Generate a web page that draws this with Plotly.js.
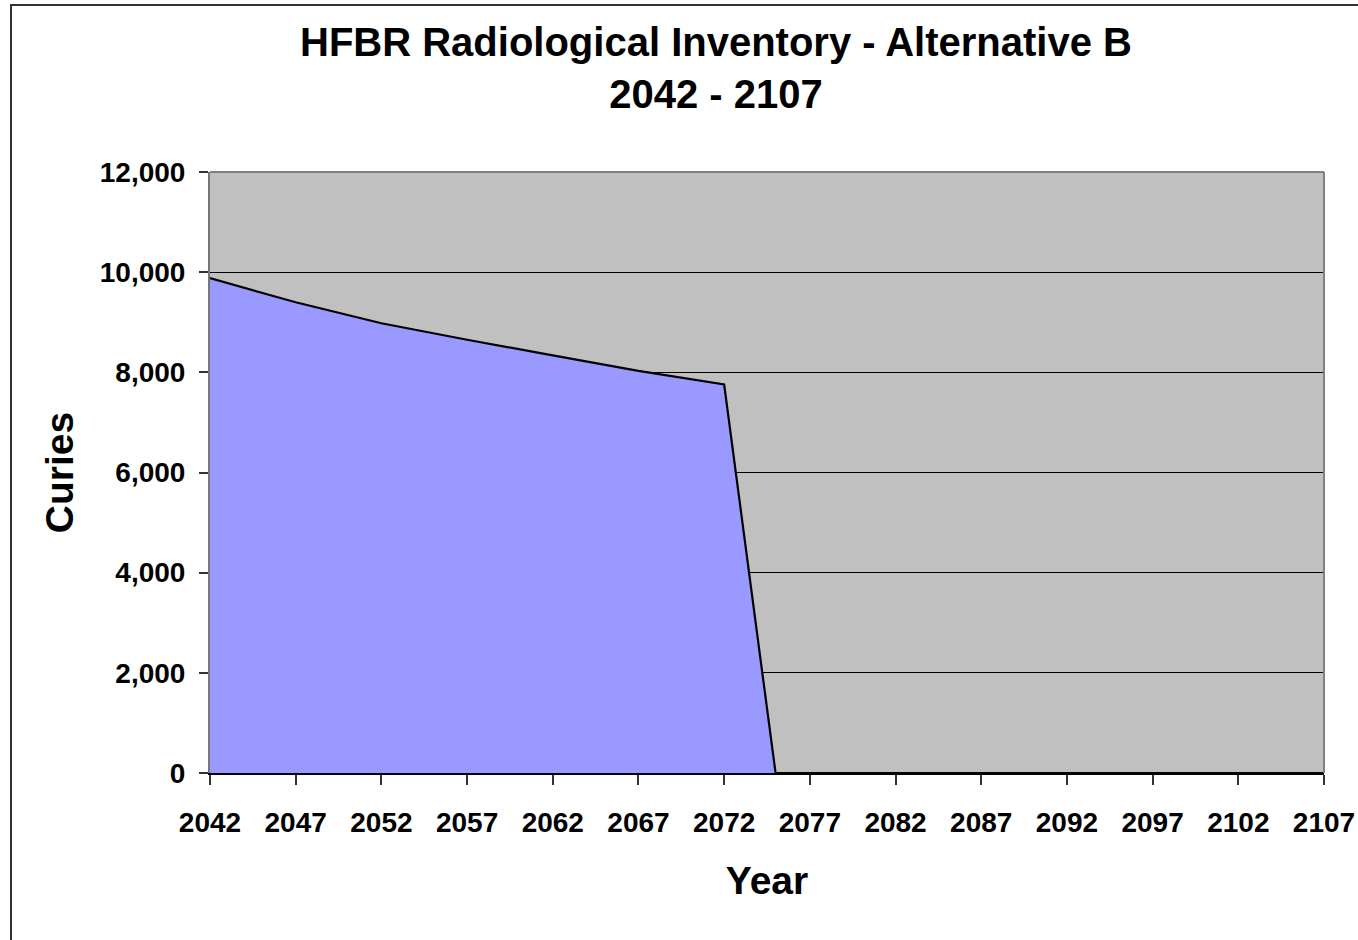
<!DOCTYPE html>
<html>
<head>
<meta charset="utf-8">
<script src="https://cdn.plot.ly/plotly-3.0.1.min.js"></script>
<style>
html,body{margin:0;padding:0;background:#fff;}
#chart{width:1358px;height:940px;}
</style>
</head>
<body>
<div id="chart"></div>
<script>
// Data
var years = [2042, 2047, 2052, 2057, 2062, 2067, 2072, 2075, 2077, 2082, 2087, 2092, 2097, 2102, 2107];
var curies = [9880, 9400, 8980, 8650, 8340, 8030, 7760, 0, 0, 0, 0, 0, 0, 0, 0];
var xTickVals = [2042, 2047, 2052, 2057, 2062, 2067, 2072, 2077, 2082, 2087, 2092, 2097, 2102, 2107];
var yTickVals = [0, 2000, 4000, 6000, 8000, 10000, 12000];
var titleLines = ['HFBR Radiological Inventory - Alternative B', '2042 - 2107'];
var xTitle = 'Year';
var yTitle = 'Curies';

var FONT = '"Liberation Sans", Arial, sans-serif';
var W = 1358, H = 940;
var mL = 210, mR = 34, mT = 172, mB = 167;
var pw = W - mL - mR, ph = H - mT - mB;

var trace = {
  x: years,
  y: curies,
  type: 'scatter',
  mode: 'lines',
  fill: 'tozeroy',
  fillcolor: '#9999FF',
  line: {color: '#000000', width: 2.2},
  hoverinfo: 'x+y'
};

var layout = {
  width: W, height: H,
  margin: {l: mL, r: mR, t: mT, b: mB, pad: 0},
  paper_bgcolor: '#ffffff',
  plot_bgcolor: '#C0C0C0',
  showlegend: false,
  font: {family: FONT, color: '#000000'},
  title: {
    text: titleLines.map(function (s) { return '<b>' + s + '</b>'; }).join('<br>'),
    font: {family: FONT, size: 40, color: '#000000'},
    x: 716 / W, xref: 'container', xanchor: 'center',
    y: 1 - 56 / H, yref: 'container', yanchor: 'top'
  },
  xaxis: {
    range: [2042, 2107],
    tickmode: 'array',
    tickvals: xTickVals,
    ticktext: xTickVals.map(String),
    ticks: 'outside', ticklen: 10, tickwidth: 1.5, tickcolor: '#333333',
    tickfont: {family: FONT, size: 28, color: '#000000', weight: 'bold'},
    ticklabelstandoff: 13,
    showgrid: false, zeroline: false,
    showline: true, linecolor: '#000000', linewidth: 2,
    title: {text: '<b>' + xTitle + '</b>', font: {family: FONT, size: 39, color: '#000000'}, standoff: 30},
    fixedrange: true
  },
  yaxis: {
    range: [0, 12000],
    tickmode: 'array',
    tickvals: yTickVals,
    ticktext: yTickVals.map(function (v) { return v.toLocaleString('en-US'); }),
    ticks: 'outside', ticklen: 9, tickwidth: 1.5, tickcolor: '#333333',
    tickfont: {family: FONT, size: 28, color: '#000000', weight: 'bold'},
    ticklabelstandoff: 8,
    showgrid: true, gridcolor: '#000000', gridwidth: 1,
    zeroline: false,
    showline: true, linecolor: '#777777', linewidth: 2,
    title: {text: '<b>' + yTitle + '</b>', font: {family: FONT, size: 39, color: '#000000'}, standoff: 14},
    fixedrange: true
  },
  shapes: [
    {type: 'line', xref: 'paper', yref: 'paper', x0: 0, x1: 1, y0: 1, y1: 1, line: {color: '#808080', width: 2}, layer: 'above'},
    {type: 'line', xref: 'paper', yref: 'paper', x0: 1, x1: 1, y0: 0, y1: 1, line: {color: '#808080', width: 2}, layer: 'above'},
    {type: 'rect', xref: 'paper', yref: 'paper',
     x0: (11 - mL) / pw, x1: (W + 10 - mL) / pw,
     y0: (ph + mT - (H + 10)) / ph, y1: (ph + mT - 5) / ph,
     line: {color: '#333333', width: 2}, fillcolor: 'rgba(0,0,0,0)', layer: 'above'}
  ]
};

Plotly.newPlot('chart', [trace], layout, {displayModeBar: false});
</script>
</body>
</html>
